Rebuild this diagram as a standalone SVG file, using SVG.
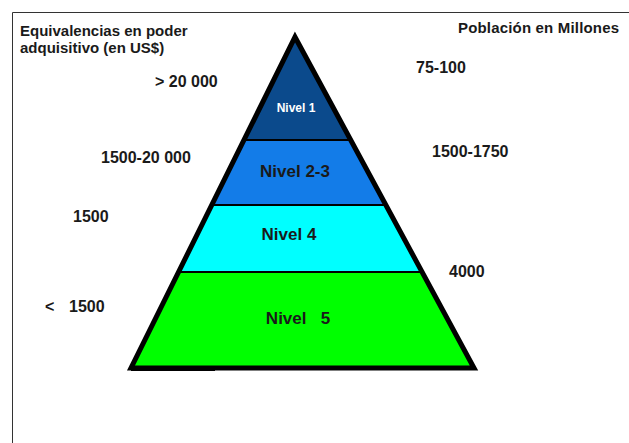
<svg xmlns="http://www.w3.org/2000/svg" width="629" height="443" viewBox="0 0 629 443">
<style>
text{font-family:"Liberation Sans",Arial,sans-serif;font-weight:bold;fill:#1a1a1a;}
.h{font-size:15px;}
.v{font-size:16px;}
.n{font-size:17px;text-anchor:middle;white-space:pre;}
.sep{stroke:#000;stroke-width:2;fill:none;}
</style>
<rect x="0" y="0" width="629" height="443" fill="#fff"/>
<path d="M12.5 443 V12.5 H629" fill="none" stroke="#333" stroke-width="1"/>
<g id="nivel5"><polygon points="178,272 421,272 474,368 131,368" fill="#00ff00"/><text class="n" x="298" y="324">Nivel   5</text></g>
<g id="nivel4"><polygon points="212,205 386,205 421,272 178,272" fill="#00ffff"/><text class="n" x="289" y="240">Nivel 4</text></g>
<g id="nivel23"><polygon points="244,140 351,140 386,205 212,205" fill="#137ce8"/><text class="n" x="295" y="177">Nivel 2-3</text></g>
<g id="nivel1"><polygon points="295,37 351,140 244,140" fill="#0b4a8c"/><text x="296" y="112" style="font-size:12px;text-anchor:middle;fill:#fff">Nivel 1</text></g>
<g id="outline">
<line class="sep" x1="244" y1="140" x2="351" y2="140"/>
<line class="sep" x1="212" y1="205" x2="386" y2="205"/>
<line class="sep" x1="178" y1="272" x2="421" y2="272"/>
<polygon points="295,37 474,368 131,368" fill="none" stroke="#000" stroke-width="5" stroke-linejoin="miter"/>
<line x1="131" y1="369.5" x2="215" y2="369.5" stroke="#000" stroke-width="3"/>
</g>
<g id="labels-left">
<text class="h" x="20" y="36">Equivalencias en poder</text>
<text class="h" x="20" y="53">adquisitivo (en US$)</text>
<text class="v" x="155" y="87">&gt; 20 000</text>
<text class="v" x="101" y="163">1500-20 000</text>
<text class="v" x="73" y="222">1500</text>
<text class="v" x="45" y="312">&lt;</text>
<text class="v" x="69" y="312">1500</text>
</g>
<g id="labels-right">
<text class="h" x="619" y="33" text-anchor="end" textLength="161">Población en Millones</text>
<text class="v" x="416" y="73">75-100</text>
<text class="v" x="432" y="157">1500-1750</text>
<text class="v" x="449" y="277">4000</text>
</g>
</svg>
